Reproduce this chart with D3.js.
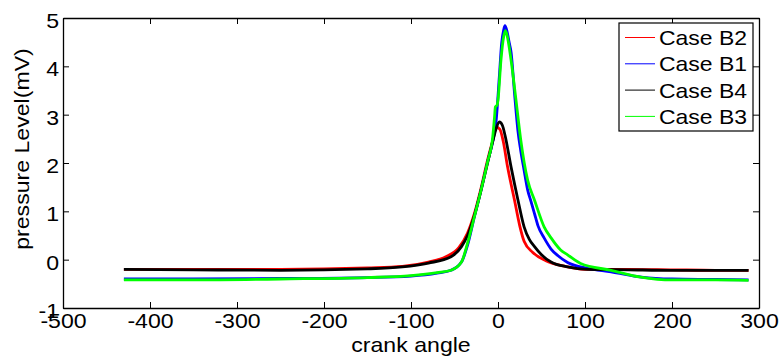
<!DOCTYPE html>
<html><head><meta charset="utf-8">
<script src="https://cdn.jsdelivr.net/npm/d3@7"></script>
<style>body{margin:0;background:#fff}svg{display:block}text{font-family:Arial,"Liberation Sans",sans-serif;fill:#000}</style>
</head><body>
<svg id="c" width="779" height="360"></svg>
<script>
// ---- data ----
const xTicks = [-500,-400,-300,-200,-100,0,100,200,300];
const yTicks = [-1,0,1,2,3,4,5];
const seriesNames = ["Case B2","Case B1","Case B4","Case B3"];
const seriesColors = ["#ff0000","#0000ff","#000000","#00ff00"];

const b2X = [-430,-350,-250,-150,-110,-80,-60,-45,-35,-27,-20,-12,-6,-2,2,6,11,19,25,30,40,55,75,100,150,200,250,288];
const b2Y = [-0.20,-0.20,-0.20,-0.17,-0.14,-0.05,0.06,0.25,0.55,0.96,1.44,2.06,2.47,2.74,2.70,2.45,1.92,1.23,0.70,0.38,0.15,-0.02,-0.13,-0.20,-0.20,-0.21,-0.22,-0.22];

const b1X = [-430,-350,-250,-150,-100,-70,-54,-42,-35,-27,-20,-12,-6,-2,1.5,4.2,6.5,8,10,13,15,19,23,26,30,34,38,42,46,53,61,69,80,103,130,165,200,250,288];
const b1Y = [-0.40,-0.40,-0.39,-0.37,-0.34,-0.28,-0.22,-0.05,0.30,0.90,1.40,2.02,2.45,2.90,3.78,4.48,4.75,4.84,4.75,4.48,4.30,3.44,2.65,2.27,1.85,1.45,1.20,0.95,0.70,0.45,0.22,0.08,-0.06,-0.18,-0.25,-0.36,-0.40,-0.41,-0.42];

const b4X = [-430,-350,-250,-150,-110,-80,-54,-42,-35,-27,-20,-12,-6,-2,1.5,5,8,15,23,30,36,42,50,61,80,103,150,200,250,288];
const b4Y = [-0.20,-0.21,-0.22,-0.19,-0.15,-0.07,0.06,0.27,0.50,0.92,1.40,2.00,2.45,2.72,2.85,2.78,2.58,1.92,1.23,0.68,0.42,0.27,0.10,-0.05,-0.15,-0.20,-0.21,-0.22,-0.22,-0.22];

const b3X = [-430,-350,-250,-150,-100,-70,-54,-42,-35,-27,-20,-12,-6,-4,-3,-1,0,3.4,6.5,8.4,10.3,15,20.7,26,34,42,53,61,72,80,95,130,164,200,250,288];
const b3Y = [-0.42,-0.42,-0.40,-0.37,-0.33,-0.27,-0.22,-0.05,0.34,0.90,1.40,2.02,2.55,2.95,3.16,3.20,3.30,4.13,4.61,4.74,4.65,4.13,3.30,2.50,1.65,1.23,0.68,0.45,0.20,0.10,-0.08,-0.22,-0.36,-0.42,-0.42,-0.43];

const seriesX = [b2X,b1X,b4X,b3X];
const seriesY = [b2Y,b1Y,b4Y,b3Y];

// ---- layout ----
const L = 63, R = 759, T = 18, B = 308;
const FONT = "Arial, 'Liberation Sans', sans-serif";
const STRETCH = 1.1;
const svg = d3.select("#c");
const x = d3.scaleLinear().domain([-500,300]).range([L,R]);
const y = d3.scaleLinear().domain([-1,5]).range([B,T]);

svg.append("defs").append("clipPath").attr("id","clip")
  .append("rect").attr("x",L).attr("y",T).attr("width",R-L).attr("height",B-T);

// lines
const line = d3.line().x(d=>x(d[0])).y(d=>y(d[1])).curve(d3.curveMonotoneX);
const g = svg.append("g").attr("clip-path","url(#clip)");
seriesX.forEach((xs,i)=>{
  const pts = xs.map((v,j)=>[v,seriesY[i][j]]);
  g.append("path").attr("d",line(pts)).attr("fill","none")
    .attr("stroke",seriesColors[i]).attr("stroke-width",2.8).attr("stroke-linejoin","round");
});

// axes (box with inward ticks on all sides)
const fs = 21;
const fmt = d => String(d);
const ax = svg.append("g");
ax.append("g").attr("class","xb").attr("transform",`translate(0,${B})`)
  .call(d3.axisBottom(x).tickValues(xTicks).tickFormat(fmt).tickSizeInner(-6).tickSizeOuter(0).tickPadding(4));
ax.append("g").attr("transform",`translate(0,${T})`)
  .call(d3.axisTop(x).tickValues(xTicks).tickSizeInner(-6).tickSizeOuter(0).tickFormat(""));
ax.append("g").attr("class","yl").attr("transform",`translate(${L},0)`)
  .call(d3.axisLeft(y).tickValues(yTicks).tickFormat(fmt).tickSizeInner(-6).tickSizeOuter(0).tickPadding(4));
ax.append("g").attr("transform",`translate(${R},0)`)
  .call(d3.axisRight(y).tickValues(yTicks).tickSizeInner(-6).tickSizeOuter(0).tickFormat(""));
ax.selectAll(".domain").attr("stroke","#000").attr("stroke-width",1.3);
ax.selectAll(".tick line").attr("stroke","#000");
ax.selectAll("g").attr("font-size",null).attr("font-family",null);
ax.selectAll("text").attr("font-size",fs).attr("font-family",FONT).attr("fill","#000");
ax.selectAll("g.yl g.tick text").attr("dy","0.45em");
ax.selectAll("g.xb g.tick text").attr("dy","0.78em");

// axis titles
svg.append("text").attr("x",(L+R)/2).attr("y",352).attr("text-anchor","middle")
  .attr("font-size",fs).attr("font-family",FONT).text("crank angle");
svg.append("text").attr("transform",`translate(29,149) rotate(-90)`).attr("text-anchor","middle")
  .attr("font-size",fs).attr("font-family",FONT).text("pressure Level(mV)");

// horizontal stretch of text like the reference
svg.selectAll("text").each(function(){
  const w = this.getComputedTextLength();
  if (w > 0) d3.select(this).attr("textLength", w*STRETCH).attr("lengthAdjust","spacingAndGlyphs");
});

// legend
const lg = svg.append("g");
lg.append("rect").attr("x",619).attr("y",23).attr("width",134).attr("height",108)
  .attr("fill","#fff").attr("stroke","#000").attr("stroke-width",1.2);
seriesNames.forEach((n,i)=>{
  const cy = 37.5 + i*26.3;
  lg.append("line").attr("x1",625).attr("x2",655).attr("y1",cy).attr("y2",cy)
    .attr("stroke",seriesColors[i]).attr("stroke-width",1);
  lg.append("text").attr("x",659).attr("y",cy).attr("dy","0.36em")
    .attr("font-size",21).attr("font-family",FONT)
    .attr("textLength",88).attr("lengthAdjust","spacingAndGlyphs").text(n);
});
</script>
</body></html>
